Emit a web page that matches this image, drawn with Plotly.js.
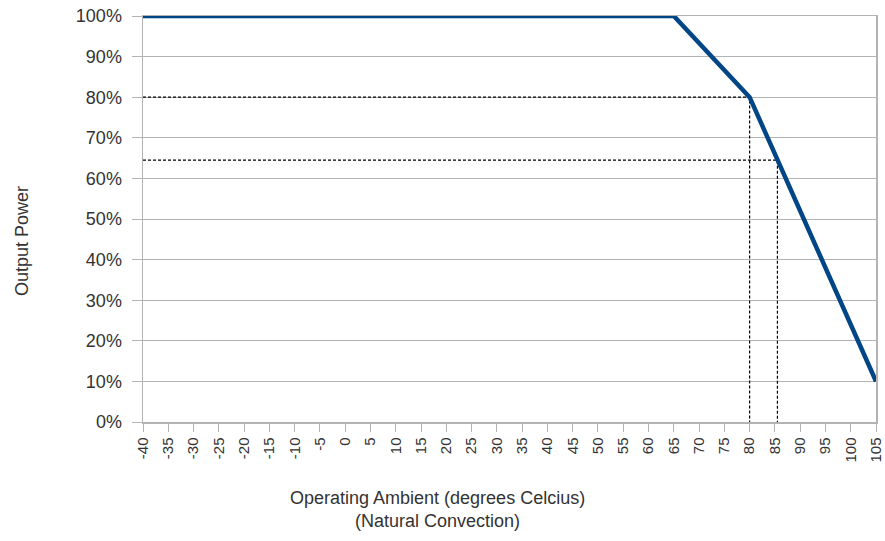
<!DOCTYPE html>
<html>
<head>
<meta charset="utf-8">
<script src="https://cdn.plot.ly/plotly-3.0.1.min.js"></script>
<style>html,body{margin:0;padding:0;background:#fff;}#chart{width:885px;height:541px;}</style>
</head>
<body>
<div id="chart"></div>
<script>
// Data
const temps = [-40, 65, 80, 105];           // °C break points of the derating curve
const power = [100, 100, 80, 10];           // % output power at those points
const tickTemps = [-40,-35,-30,-25,-20,-15,-10,-5,0,5,10,15,20,25,30,35,40,45,50,55,60,65,70,75,80,85,90,95,100,105];
const refTemps = [80, 85.5];                // dashed reference markers
const refPower = [80, 64.5];

const axisGray = '#b3b3b3';
const textColor = '#333333';

const traces = [];
refTemps.forEach((t, i) => {
  traces.push({
    x: [tickTemps[0], t, t],
    y: [refPower[i], refPower[i], 0],
    mode: 'lines',
    line: {color: '#000000', width: 1.2, dash: '3px,2px'},
    hoverinfo: 'skip',
    showlegend: false
  });
});
traces.push({
  x: temps,
  y: power,
  mode: 'lines',
  line: {color: '#004586', width: 4.5},
  showlegend: false
});

const layout = {
  width: 885, height: 541,
  margin: {l: 143, r: 9, t: 16, b: 119},
  paper_bgcolor: '#ffffff',
  plot_bgcolor: '#ffffff',
  font: {family: 'Liberation Sans, Arial, sans-serif', color: textColor, size: 15},
  xaxis: {
    range: [-40, 105],
    tickmode: 'array',
    tickvals: tickTemps,
    ticktext: tickTemps.map(String),
    tickangle: -90,
    ticks: 'outside', ticklen: 8, tickcolor: axisGray, tickwidth: 1,
    showgrid: false,
    showline: true, linecolor: axisGray, linewidth: 1.5, mirror: true,
    zeroline: false,
    tickfont: {size: 15, color: textColor}
  },
  yaxis: {
    range: [0, 100],
    dtick: 10,
    ticksuffix: '%',
    ticks: 'outside', ticklen: 10, tickcolor: axisGray, tickwidth: 1,
    ticklabelstandoff: 6,
    showgrid: true, gridcolor: axisGray, gridwidth: 1,
    showline: true, linecolor: axisGray, linewidth: 1.5, mirror: true,
    zeroline: false,
    tickfont: {size: 18, color: textColor}
  },
  annotations: [
    {text: 'Operating Ambient (degrees Celcius)<br>(Natural Convection)',
     xref: 'paper', yref: 'paper', x: 0.4018, y: -0.2167,
     xanchor: 'center', yanchor: 'middle', showarrow: false,
     font: {size: 18, color: textColor}},
    {text: 'Output Power', textangle: -90,
     xref: 'paper', yref: 'paper', x: -0.165, y: 0.4458,
     xanchor: 'center', yanchor: 'middle', showarrow: false,
     font: {size: 18, color: textColor}}
  ]
};

Plotly.newPlot('chart', traces, layout, {staticPlot: true, displayModeBar: false});
</script>
</body>
</html>
